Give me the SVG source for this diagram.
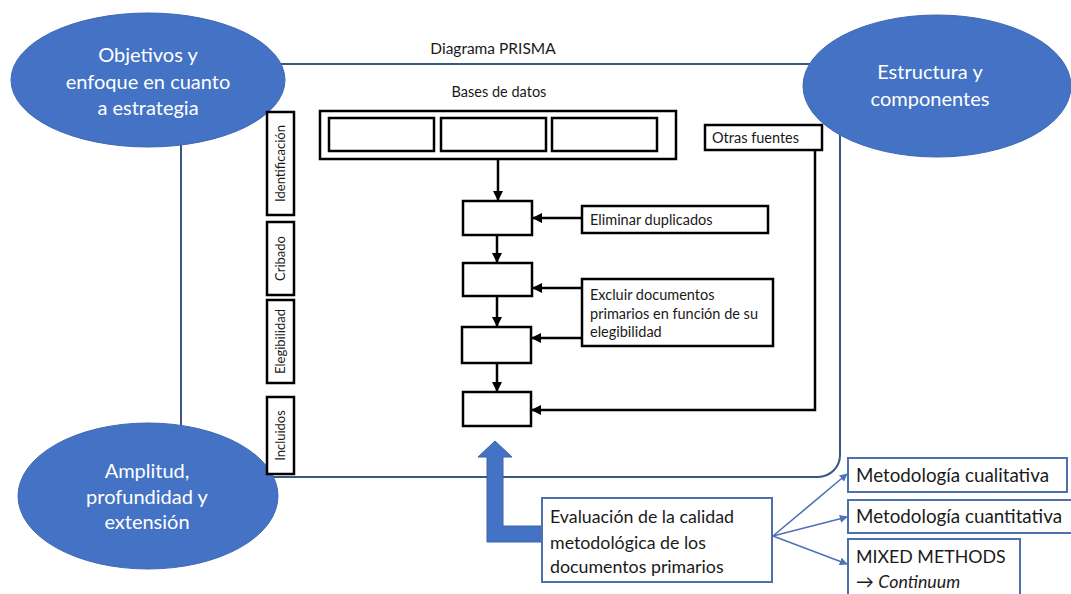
<svg xmlns="http://www.w3.org/2000/svg" width="1071" height="594" viewBox="0 0 1071 594">
<defs>
<style>
text{font-family:Lato,"Open Sans","Liberation Sans",sans-serif;fill:#1a1a1a}
.ell{fill:#4472C4;stroke:#3F68B5;stroke-width:1}
.et{fill:#fff;font-size:20px;text-anchor:middle}
.bx{fill:#fff;stroke:#000;stroke-width:2.5}
.bb{fill:#fff;stroke:#4E70AC;stroke-width:2}
.ln{stroke:#000;stroke-width:2.5;fill:none}
.bl{stroke:#4E72B4;stroke-width:1.6;fill:none}
.lab{font-size:13px;text-anchor:middle}
.sm{font-size:14.5px}
.md{font-size:17.8px}
.mt{font-size:18.8px}
</style>
<marker id="ah" viewBox="0 0 10 10" refX="9" refY="5" markerWidth="4" markerHeight="4" orient="auto"><path d="M0,0 L10,5 L0,10 z" fill="#000"/></marker>
<marker id="ab" viewBox="0 0 10 10" refX="9" refY="5" markerWidth="5" markerHeight="5" orient="auto"><path d="M0,0 L10,5 L0,10 z" fill="#4E72B4"/></marker>
</defs>
<rect width="1071" height="594" fill="#fff"/>

<g id="frame">
<rect x="181" y="64" width="659" height="413" rx="22" fill="none" stroke="#3A5683" stroke-width="2"/>
<text x="493" y="54" font-size="15.5" text-anchor="middle">Diagrama PRISMA</text>
</g>

<g id="objetivos">
<ellipse class="ell" cx="148" cy="80" rx="137" ry="67"/>
<text class="et" x="148" y="62">Objetivos y</text>
<text class="et" x="148" y="89">enfoque en cuanto</text>
<text class="et" x="148" y="115">a estrategia</text>
</g>
<g id="estructura">
<ellipse class="ell" cx="937" cy="86" rx="134" ry="71"/>
<text class="et" x="930" y="79">Estructura y</text>
<text class="et" x="930" y="106">componentes</text>
</g>
<g id="amplitud">
<ellipse class="ell" cx="148" cy="496" rx="130" ry="73"/>
<text class="et" x="147" y="478">Amplitud,</text>
<text class="et" x="147" y="504">profundidad y</text>
<text class="et" x="147" y="529">extensión</text>
</g>

<g id="fases">
<rect class="bx" x="267" y="112" width="27" height="103"/>
<text class="lab" transform="translate(285,163.5) rotate(-90)">Identificación</text>
<rect class="bx" x="267" y="222" width="27" height="73"/>
<text class="lab" transform="translate(285,258.5) rotate(-90)">Cribado</text>
<rect class="bx" x="267" y="300" width="27" height="83"/>
<text class="lab" transform="translate(285,341.5) rotate(-90)">Elegibilidad</text>
<rect class="bx" x="267" y="397" width="27" height="77"/>
<text class="lab" transform="translate(285,435.5) rotate(-90)">Incluidos</text>
</g>

<g id="bases">
<text x="499" y="97" font-size="14.5" text-anchor="middle">Bases de datos</text>
<rect class="bx" x="320" y="111" width="356" height="48"/>
<rect class="bx" x="329" y="118" width="105" height="33"/>
<rect class="bx" x="441" y="118" width="105" height="33"/>
<rect class="bx" x="552" y="118" width="105" height="33"/>
</g>

<g id="otras">
<rect class="bx" x="705" y="125" width="117" height="25"/>
<text class="sm" x="712" y="142.5">Otras fuentes</text>
</g>

<g id="pasos">
<rect class="bx" x="463" y="201" width="69" height="34"/>
<rect class="bx" x="463" y="263" width="69" height="33"/>
<rect class="bx" x="462" y="327" width="69" height="36"/>
<rect class="bx" x="463" y="392" width="68" height="34"/>
</g>

<g id="eliminar">
<rect class="bx" x="582" y="206" width="186" height="27"/>
<text class="sm" x="590" y="224.5">Eliminar duplicados</text>
</g>
<g id="excluir">
<rect class="bx" x="582" y="279" width="191" height="67"/>
<text class="sm" x="590" y="300">Excluir documentos</text>
<text class="sm" x="590" y="318.5">primarios en función de su</text>
<text class="sm" x="590" y="337">elegibilidad</text>
</g>

<g id="connectors">
<line class="ln" x1="498" y1="159" x2="498" y2="200" marker-end="url(#ah)"/>
<line class="ln" x1="497" y1="235" x2="497" y2="262" marker-end="url(#ah)"/>
<line class="ln" x1="497" y1="296" x2="497" y2="326" marker-end="url(#ah)"/>
<line class="ln" x1="497" y1="363" x2="497" y2="391" marker-end="url(#ah)"/>
<line class="ln" x1="582" y1="218" x2="533" y2="218" marker-end="url(#ah)"/>
<line class="ln" x1="582" y1="288" x2="533" y2="288" marker-end="url(#ah)"/>
<line class="ln" x1="582" y1="338" x2="532" y2="338" marker-end="url(#ah)"/>
<polyline class="ln" points="815,150 815,410 532,410" marker-end="url(#ah)"/>
<path d="M495,441 L512,457 L503,457 L503,526 L543,526 L543,542 L487,542 L487,457 L478,457 Z" fill="#4472C4" stroke="#3A62A8" stroke-width="1"/>
<line class="bl" x1="773" y1="536" x2="847" y2="474" marker-end="url(#ab)"/>
<line class="bl" x1="773" y1="536" x2="847" y2="517" marker-end="url(#ab)"/>
<line class="bl" x1="773" y1="536" x2="847" y2="564" marker-end="url(#ab)"/>
</g>

<g id="evaluacion">
<rect class="bb" x="542" y="498" width="230" height="84"/>
<text class="md" x="550" y="523">Evaluación de la calidad</text>
<text class="md" x="550" y="549">metodológica de los</text>
<text class="md" x="550" y="573">documentos primarios</text>
</g>
<g id="cualitativa">
<rect class="bb" x="848" y="458" width="219" height="34"/>
<text class="mt" x="856" y="482">Metodología cualitativa</text>
</g>
<g id="cuantitativa">
<rect class="bb" x="848" y="500" width="226" height="33"/>
<text class="mt" x="856" y="523">Metodología cuantitativa</text>
</g>
<g id="mixed">
<rect class="bb" x="848" y="539" width="172" height="60"/>
<text class="md" x="856" y="563">MIXED METHODS</text>
<text class="md" x="856" y="588">→ <tspan font-style="italic">Continuum</tspan></text>
</g>
</svg>
